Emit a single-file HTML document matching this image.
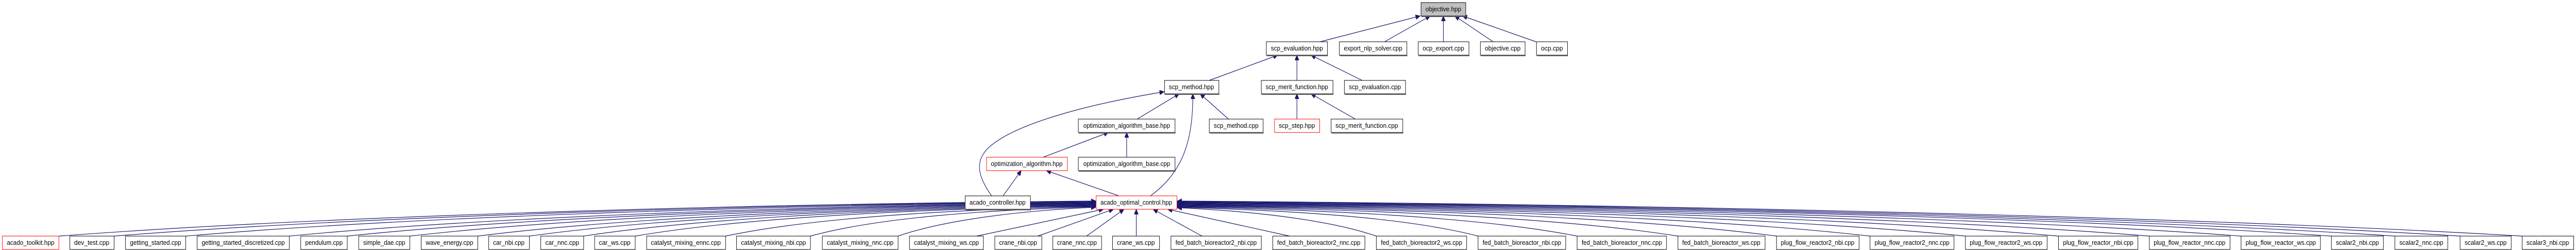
<!DOCTYPE html>
<html><head><meta charset="utf-8"><style>
html,body{margin:0;padding:0;background:#fff;width:100%;height:485px;overflow:hidden;}
svg{display:block;width:100%;height:485px;}
text{font-family:"Liberation Sans",sans-serif;font-size:12.5px;fill:#000;}
.e{fill:none;stroke:#191970;stroke-width:1.2;marker-end:url(#a);}
.n{fill:#fff;stroke:#000;stroke-width:1;}
.r{fill:#fff;stroke:#ff0000;stroke-width:1;}
.s{stroke:#555;stroke-width:2;}
</style></head><body>
<svg width="100%" height="485" viewBox="0 0 5645 485" preserveAspectRatio="none" xmlns="http://www.w3.org/2000/svg">
<defs><marker id="a" markerUnits="userSpaceOnUse" markerWidth="11" markerHeight="9" refX="10" refY="4.5" orient="auto"><path d="M0,0 L10,4.5 L0,9 z" fill="#191970" stroke="#191970"/></marker></defs>

<path class="e" d="M2893,81 L3112,31"/>
<path class="e" d="M3034,81 L3134,31"/>
<path class="e" d="M3163,81 L3163,31"/>
<path class="e" d="M3272,81 L3188,31"/>
<path class="e" d="M3366,81 L3205,31"/>
<path class="e" d="M2650,156 L2800,107"/>
<path class="e" d="M2842,156 L2842,107"/>
<path class="e" d="M2985,156 L2873,107"/>
<path class="e" d="M2492,231 L2584,182"/>
<path class="e" d="M2692,231 L2630,182"/>
<path class="e" d="M2521,380 C2600,330 2614,260 2614,182"/>
<path class="e" d="M2173,380 C2145,345 2130,310 2175,280 C2240,235 2400,200 2551,178"/>
<path class="e" d="M2842,231 L2842,182"/>
<path class="e" d="M2970,231 L2873,182"/>
<path class="e" d="M2286,305 L2429,257"/>
<path class="e" d="M2469,305 L2469,257"/>
<path class="e" d="M2198,380 L2238,331"/>
<path class="e" d="M2452,380 L2293,331"/>

<path class="e" d="M129,458 C697,420 1606,396 2401,390"/>
<path class="e" d="M250,458 C788,420 1648,397 2401,391"/>
<path class="e" d="M407,458 C906,420 1703,398 2401,392"/>
<path class="e" d="M634,458 C1076,420 1783,399 2401,393"/>
<path class="e" d="M761,458 C1171,420 1827,400 2401,394"/>
<path class="e" d="M898,458 C1274,420 1875,401 2401,395"/>
<path class="e" d="M1047,458 C1386,420 1927,402 2401,396"/>
<path class="e" d="M1160,458 C1470,420 1967,403 2401,397"/>
<path class="e" d="M1279,458 C1560,420 2008,404 2401,398"/>
<path class="e" d="M1392,458 C1644,420 2048,405 2401,399"/>
<path class="e" d="M1590,458 C1793,420 2117,406 2401,400"/>
<path class="e" d="M1776,458 C1932,420 2182,407 2401,401"/>
<path class="e" d="M1968,458 C2076,425 2249,408 2401,402"/>
<path class="e" d="M2140,458 L2418,406"/>
<path class="e" d="M2274,458 L2440,406"/>
<path class="e" d="M2381,458 L2463,406"/>
<path class="e" d="M2490,458 L2490,406"/>
<path class="e" d="M2634,458 L2527,406"/>
<path class="e" d="M2826,458 L2559,406"/>
<path class="e" d="M3016,458 C2907,425 2733,409 2580,403"/>
<path class="e" d="M3239,458 C3074,420 2811,408 2580,402"/>
<path class="e" d="M3456,458 C3237,420 2887,407 2580,401"/>
<path class="e" d="M3677,458 C3403,420 2964,406 2580,400"/>
<path class="e" d="M3893,458 C3565,420 3040,405 2580,399"/>
<path class="e" d="M4098,458 C3718,420 3111,404 2580,398"/>
<path class="e" d="M4307,458 C3875,420 3184,403 2580,397"/>
<path class="e" d="M4511,458 C4028,420 3256,402 2580,396"/>
<path class="e" d="M4710,458 C4177,420 3326,401 2580,395"/>
<path class="e" d="M4911,458 C4328,420 3396,400 2580,394"/>
<path class="e" d="M5109,458 C4477,420 3465,399 2580,393"/>
<path class="e" d="M5248,458 C4581,420 3514,398 2580,392"/>
<path class="e" d="M5391,458 C4688,420 3564,397 2580,391"/>
<path class="e" d="M5527,458 C4790,420 3611,396 2580,390"/>

<rect x="3114" y="5" width="98" height="26" fill="#bfbfbf" stroke="#000"/><line class="s" x1="3115" y1="32" x2="3213" y2="32"/><text x="3163" y="22" text-anchor="middle" textLength="78" lengthAdjust="spacingAndGlyphs">objective.hpp</text>

<rect class="n" x="2775" y="81" width="134" height="26"/><line class="s" x1="2776" y1="108" x2="2910" y2="108"/><text x="2842" y="98" text-anchor="middle" textLength="114" lengthAdjust="spacingAndGlyphs">scp_evaluation.hpp</text>
<rect class="n" x="2935" y="81" width="148" height="26"/><line class="s" x1="2936" y1="108" x2="3084" y2="108"/><text x="3009" y="98" text-anchor="middle" textLength="128" lengthAdjust="spacingAndGlyphs">export_nlp_solver.cpp</text>
<rect class="n" x="3108" y="81" width="111" height="26"/><line class="s" x1="3109" y1="108" x2="3220" y2="108"/><text x="3163" y="98" text-anchor="middle" textLength="91" lengthAdjust="spacingAndGlyphs">ocp_export.cpp</text>
<rect class="n" x="3244" y="81" width="98" height="26"/><line class="s" x1="3245" y1="108" x2="3343" y2="108"/><text x="3293" y="98" text-anchor="middle" textLength="78" lengthAdjust="spacingAndGlyphs">objective.cpp</text>
<rect class="n" x="3367" y="81" width="68" height="26"/><line class="s" x1="3368" y1="108" x2="3436" y2="108"/><text x="3401" y="98" text-anchor="middle" textLength="48" lengthAdjust="spacingAndGlyphs">ocp.cpp</text>

<rect class="n" x="2552" y="156" width="119" height="26"/><line class="s" x1="2553" y1="183" x2="2672" y2="183"/><text x="2611" y="173" text-anchor="middle" textLength="99" lengthAdjust="spacingAndGlyphs">scp_method.hpp</text>
<rect class="n" x="2764" y="156" width="157" height="26"/><line class="s" x1="2765" y1="183" x2="2922" y2="183"/><text x="2842" y="173" text-anchor="middle" textLength="137" lengthAdjust="spacingAndGlyphs">scp_merit_function.hpp</text>
<rect class="n" x="2946" y="156" width="134" height="26"/><line class="s" x1="2947" y1="183" x2="3081" y2="183"/><text x="3013" y="173" text-anchor="middle" textLength="114" lengthAdjust="spacingAndGlyphs">scp_evaluation.cpp</text>

<rect class="n" x="2363" y="231" width="212" height="26"/><line class="s" x1="2364" y1="258" x2="2576" y2="258"/><text x="2469" y="248" text-anchor="middle" textLength="190" lengthAdjust="spacingAndGlyphs">optimization_algorithm_base.hpp</text>
<rect class="n" x="2650" y="231" width="118" height="26"/><line class="s" x1="2651" y1="258" x2="2769" y2="258"/><text x="2709" y="248" text-anchor="middle" textLength="98" lengthAdjust="spacingAndGlyphs">scp_method.cpp</text>
<rect class="r" x="2793" y="231" width="99" height="26"/><text x="2842" y="248" text-anchor="middle" textLength="79" lengthAdjust="spacingAndGlyphs">scp_step.hpp</text>
<rect class="n" x="2917" y="231" width="157" height="26"/><line class="s" x1="2918" y1="258" x2="3075" y2="258"/><text x="2995" y="248" text-anchor="middle" textLength="137" lengthAdjust="spacingAndGlyphs">scp_merit_function.cpp</text>

<rect class="r" x="2162" y="305" width="177" height="26"/><text x="2250" y="322" text-anchor="middle" textLength="157" lengthAdjust="spacingAndGlyphs">optimization_algorithm.hpp</text>
<rect class="n" x="2363" y="305" width="212" height="26"/><line class="s" x1="2364" y1="332" x2="2576" y2="332"/><text x="2469" y="322" text-anchor="middle" textLength="190" lengthAdjust="spacingAndGlyphs">optimization_algorithm_base.cpp</text>

<rect class="n" x="2115" y="380" width="143" height="26"/><line class="s" x1="2116" y1="407" x2="2259" y2="407"/><text x="2186" y="397" text-anchor="middle" textLength="123" lengthAdjust="spacingAndGlyphs">acado_controller.hpp</text>
<rect class="r" x="2402" y="380" width="177" height="26"/><text x="2490" y="397" text-anchor="middle" textLength="157" lengthAdjust="spacingAndGlyphs">acado_optimal_control.hpp</text>

<rect class="r" x="5" y="458" width="124" height="26"/><text x="67" y="475" text-anchor="middle" textLength="104" lengthAdjust="spacingAndGlyphs">acado_toolkit.hpp</text>
<rect class="n" x="153" y="458" width="97" height="26"/><text x="201" y="475" text-anchor="middle" textLength="77" lengthAdjust="spacingAndGlyphs">dev_test.cpp</text>
<rect class="n" x="275" y="458" width="132" height="26"/><text x="341" y="475" text-anchor="middle" textLength="112" lengthAdjust="spacingAndGlyphs">getting_started.cpp</text>
<rect class="n" x="432" y="458" width="202" height="26"/><text x="533" y="475" text-anchor="middle" textLength="182" lengthAdjust="spacingAndGlyphs">getting_started_discretized.cpp</text>
<rect class="n" x="659" y="458" width="102" height="26"/><text x="710" y="475" text-anchor="middle" textLength="82" lengthAdjust="spacingAndGlyphs">pendulum.cpp</text>
<rect class="n" x="786" y="458" width="112" height="26"/><text x="842" y="475" text-anchor="middle" textLength="92" lengthAdjust="spacingAndGlyphs">simple_dae.cpp</text>
<rect class="n" x="923" y="458" width="124" height="26"/><text x="985" y="475" text-anchor="middle" textLength="104" lengthAdjust="spacingAndGlyphs">wave_energy.cpp</text>
<rect class="n" x="1071" y="458" width="89" height="26"/><text x="1115" y="475" text-anchor="middle" textLength="69" lengthAdjust="spacingAndGlyphs">car_nbi.cpp</text>
<rect class="n" x="1185" y="458" width="94" height="26"/><text x="1232" y="475" text-anchor="middle" textLength="74" lengthAdjust="spacingAndGlyphs">car_nnc.cpp</text>
<rect class="n" x="1303" y="458" width="89" height="26"/><text x="1347" y="475" text-anchor="middle" textLength="69" lengthAdjust="spacingAndGlyphs">car_ws.cpp</text>
<rect class="n" x="1417" y="458" width="173" height="26"/><text x="1503" y="475" text-anchor="middle" textLength="153" lengthAdjust="spacingAndGlyphs">catalyst_mixing_ennc.cpp</text>
<rect class="n" x="1614" y="458" width="162" height="26"/><text x="1695" y="475" text-anchor="middle" textLength="142" lengthAdjust="spacingAndGlyphs">catalyst_mixing_nbi.cpp</text>
<rect class="n" x="1802" y="458" width="166" height="26"/><text x="1885" y="475" text-anchor="middle" textLength="146" lengthAdjust="spacingAndGlyphs">catalyst_mixing_nnc.cpp</text>
<rect class="n" x="1993" y="458" width="162" height="26"/><text x="2074" y="475" text-anchor="middle" textLength="142" lengthAdjust="spacingAndGlyphs">catalyst_mixing_ws.cpp</text>
<rect class="n" x="2180" y="458" width="103" height="26"/><text x="2231" y="475" text-anchor="middle" textLength="83" lengthAdjust="spacingAndGlyphs">crane_nbi.cpp</text>
<rect class="n" x="2307" y="458" width="107" height="26"/><text x="2360" y="475" text-anchor="middle" textLength="87" lengthAdjust="spacingAndGlyphs">crane_nnc.cpp</text>
<rect class="n" x="2438" y="458" width="103" height="26"/><text x="2489" y="475" text-anchor="middle" textLength="83" lengthAdjust="spacingAndGlyphs">crane_ws.cpp</text>
<rect class="n" x="2566" y="458" width="198" height="26"/><text x="2665" y="475" text-anchor="middle" textLength="178" lengthAdjust="spacingAndGlyphs">fed_batch_bioreactor2_nbi.cpp</text>
<rect class="n" x="2789" y="458" width="202" height="26"/><text x="2890" y="475" text-anchor="middle" textLength="182" lengthAdjust="spacingAndGlyphs">fed_batch_bioreactor2_nnc.cpp</text>
<rect class="n" x="3016" y="458" width="198" height="26"/><text x="3115" y="475" text-anchor="middle" textLength="178" lengthAdjust="spacingAndGlyphs">fed_batch_bioreactor2_ws.cpp</text>
<rect class="n" x="3239" y="458" width="192" height="26"/><text x="3335" y="475" text-anchor="middle" textLength="172" lengthAdjust="spacingAndGlyphs">fed_batch_bioreactor_nbi.cpp</text>
<rect class="n" x="3456" y="458" width="196" height="26"/><text x="3554" y="475" text-anchor="middle" textLength="176" lengthAdjust="spacingAndGlyphs">fed_batch_bioreactor_nnc.cpp</text>
<rect class="n" x="3677" y="458" width="191" height="26"/><text x="3772" y="475" text-anchor="middle" textLength="171" lengthAdjust="spacingAndGlyphs">fed_batch_bioreactor_ws.cpp</text>
<rect class="n" x="3893" y="458" width="181" height="26"/><text x="3983" y="475" text-anchor="middle" textLength="161" lengthAdjust="spacingAndGlyphs">plug_flow_reactor2_nbi.cpp</text>
<rect class="n" x="4098" y="458" width="184" height="26"/><text x="4190" y="475" text-anchor="middle" textLength="164" lengthAdjust="spacingAndGlyphs">plug_flow_reactor2_nnc.cpp</text>
<rect class="n" x="4307" y="458" width="179" height="26"/><text x="4396" y="475" text-anchor="middle" textLength="159" lengthAdjust="spacingAndGlyphs">plug_flow_reactor2_ws.cpp</text>
<rect class="n" x="4511" y="458" width="174" height="26"/><text x="4598" y="475" text-anchor="middle" textLength="154" lengthAdjust="spacingAndGlyphs">plug_flow_reactor_nbi.cpp</text>
<rect class="n" x="4710" y="458" width="177" height="26"/><text x="4798" y="475" text-anchor="middle" textLength="157" lengthAdjust="spacingAndGlyphs">plug_flow_reactor_nnc.cpp</text>
<rect class="n" x="4911" y="458" width="174" height="26"/><text x="4998" y="475" text-anchor="middle" textLength="154" lengthAdjust="spacingAndGlyphs">plug_flow_reactor_ws.cpp</text>
<rect class="n" x="5109" y="458" width="114" height="26"/><text x="5166" y="475" text-anchor="middle" textLength="94" lengthAdjust="spacingAndGlyphs">scalar2_nbi.cpp</text>
<rect class="n" x="5248" y="458" width="116" height="26"/><text x="5306" y="475" text-anchor="middle" textLength="96" lengthAdjust="spacingAndGlyphs">scalar2_nnc.cpp</text>
<rect class="n" x="5391" y="458" width="112" height="26"/><text x="5447" y="475" text-anchor="middle" textLength="92" lengthAdjust="spacingAndGlyphs">scalar2_ws.cpp</text>
<rect class="n" x="5527" y="458" width="113" height="26"/><text x="5583" y="475" text-anchor="middle" textLength="93" lengthAdjust="spacingAndGlyphs">scalar3_nbi.cpp</text>
</svg>
</body></html>
